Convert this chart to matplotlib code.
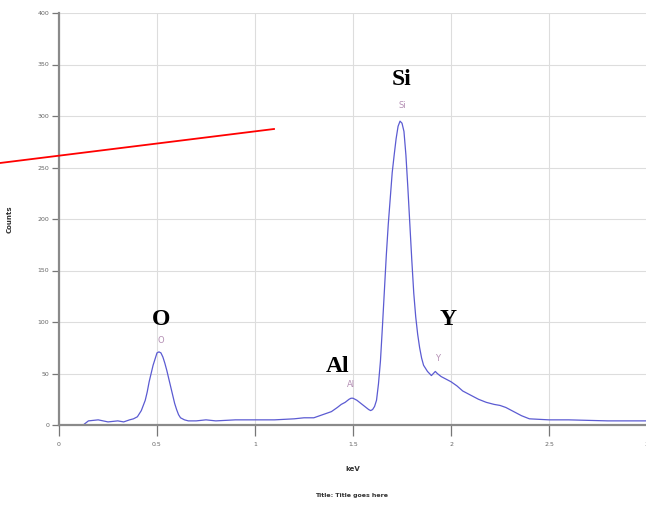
import matplotlib.pyplot as plt
from matplotlib.lines import Line2D

# EDS spectrum
kev = [0.13, 0.15, 0.20, 0.25, 0.30, 0.33, 0.36, 0.38, 0.40, 0.42, 0.44, 0.45, 0.46,
       0.47, 0.48, 0.49, 0.50, 0.51, 0.52, 0.53, 0.54, 0.55, 0.56, 0.57, 0.58, 0.59,
       0.60, 0.61, 0.62, 0.64, 0.66, 0.70, 0.75, 0.80, 0.90, 1.00, 1.10, 1.20, 1.25,
       1.30, 1.33, 1.36, 1.39, 1.42, 1.44, 1.46, 1.48, 1.49, 1.50, 1.52, 1.54, 1.56,
       1.58, 1.59, 1.60, 1.61, 1.62, 1.63, 1.64, 1.65, 1.66, 1.67, 1.68, 1.69, 1.70,
       1.71, 1.72, 1.73, 1.74, 1.75, 1.76, 1.77, 1.78, 1.79, 1.80, 1.81, 1.82, 1.83,
       1.84, 1.85, 1.86, 1.88, 1.90, 1.92, 1.93, 1.95, 1.98, 2.00, 2.03, 2.06, 2.10,
       2.14, 2.18, 2.22, 2.25, 2.28, 2.32, 2.36, 2.40, 2.50, 2.60, 2.80, 3.00]
counts = [1, 4, 5, 3, 4, 3, 5, 6, 8, 14, 24, 32, 42,
          50, 58, 64, 70, 71, 70, 66, 60, 53, 45, 37, 29, 21,
          15, 10, 7, 5, 4, 4, 5, 4, 5, 5, 5, 6, 7,
          7, 9, 11, 13, 17, 20, 22, 25, 26, 26, 24, 21, 18,
          15, 14, 15, 18, 24, 40, 62, 95, 130, 165, 195, 220, 245,
          262, 278, 290, 295, 293, 285, 262, 230, 195, 160, 128, 105, 88,
          75, 65, 58, 52, 48, 52, 50, 47, 44, 42, 38, 33, 29,
          25, 22, 20, 19, 17, 13, 9, 6, 5, 5, 4, 4]

peak_names = ["O", "Al", "Si", "Y"]
peak_kev = [0.52, 1.49, 1.75, 1.93]
peak_marks = [82, 39, 310, 65]
big_kev = [0.52, 1.42, 1.75, 1.985]
big_counts = [102, 57, 335, 102]

fig = plt.figure(figsize=(6.46, 5.09), dpi=100)
ax = fig.add_axes([59 / 646, 84 / 509, 588 / 646, 412 / 509])

ax.plot(kev, counts, color="#5b5bd2", lw=0.9)

ax.set_xlim(0, 3)
ax.set_ylim(0, 400)
ax.set_xticks([0, 0.5, 1, 1.5, 2, 2.5, 3])
ax.set_xticklabels(["0", "0.5", "1", "1.5", "2", "2.5", "3"])
ax.set_yticks(range(0, 401, 50))
ax.grid(True, color="#dddddd", lw=0.8)
ax.set_axisbelow(True)

for side in ["top", "right"]:
    ax.spines[side].set_visible(False)
for side in ["left", "bottom"]:
    ax.spines[side].set_color("#8a8a8a")
    ax.spines[side].set_linewidth(1.6)

ax.tick_params(axis="x", length=8, width=0.9, color="#777777", labelsize=4.5,
               labelcolor="#666666", pad=4)
ax.tick_params(axis="y", length=5, width=0.9, color="#777777", labelsize=4.5,
               labelcolor="#666666", pad=2)

ax.set_xlabel("keV", fontsize=5, fontweight="bold", color="#333333", labelpad=14)
ax.set_ylabel("Counts", fontsize=5, fontweight="bold", color="#333333", labelpad=18)
fig.text(352 / 646, 1 - 495 / 509, "Title: Title goes here", fontsize=4.5,
         fontweight="bold", color="#333333", ha="center", va="center")

# small peak markers
for name, x, y in zip(peak_names, peak_kev, peak_marks):
    ax.text(x, y, name, fontsize=6, color="#b48fb4", ha="center", va="center")

# big element labels
for name, x, y in zip(peak_names, big_kev, big_counts):
    ax.text(x, y, name, fontsize=17, fontweight="bold", family="Liberation Serif",
            color="black", ha="center", va="center")

# red pointer line across the figure
fig.add_artist(Line2D([0, 274 / 646], [1 - 163 / 509, 1 - 129 / 509],
                      color="red", lw=1.3, transform=fig.transFigure))

fig.savefig("out.png", dpi=100)
